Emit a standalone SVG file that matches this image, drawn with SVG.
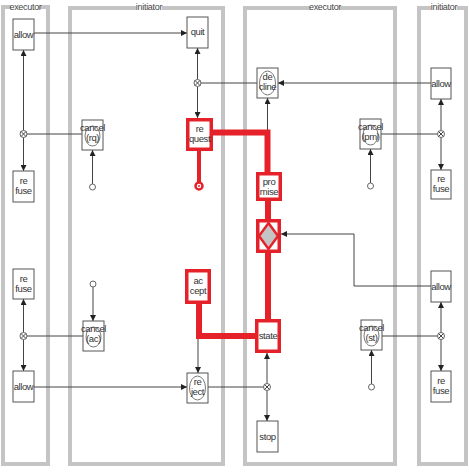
<svg xmlns="http://www.w3.org/2000/svg" width="469" height="472" viewBox="0 0 469 472">
<defs>
<marker id="ar" markerWidth="6" markerHeight="6" refX="6" refY="3" orient="auto" markerUnits="userSpaceOnUse"><path d="M0,0 L6,3 L0,6 z" fill="#222"/></marker>
<style>
.lane{fill:none;stroke:#c4c4c4;stroke-width:4}
.lt{font-family:"Liberation Sans",Arial,sans-serif;font-size:9px;fill:#444;text-anchor:middle;letter-spacing:-0.3px}
.lbg{fill:#fff}
.box{fill:#fff;stroke:#555;stroke-width:1}
.rbox{fill:#fff;stroke:#e5222a;stroke-width:3.5}
.t{font-family:"Liberation Sans",Arial,sans-serif;font-size:9.5px;fill:#333;text-anchor:middle;letter-spacing:-0.4px}
.ell{fill:none;stroke:#555;stroke-width:0.8}
.c{stroke:#444;stroke-width:1;fill:none}
.ca{stroke:#444;stroke-width:1;fill:none;marker-end:url(#ar)}
.x{fill:#fff;stroke:#555;stroke-width:0.9}
.sc{fill:#fff;stroke:#666;stroke-width:1}
.red{stroke:#e5222a;stroke-width:6;fill:none}
</style>
</defs>
<rect width="469" height="472" fill="#fff"/>
<g id="lanes">
<rect class="lane" x="3" y="7" width="45" height="457"/>
<rect class="lane" x="70" y="8" width="153" height="456"/>
<rect class="lane" x="245" y="8" width="150" height="456"/>
<rect class="lane" x="419" y="8" width="47" height="456"/>
<rect class="lbg" x="11" y="2" width="29" height="9"/>
<text class="lt" x="25.5" y="10">executor</text>
<rect class="lbg" x="136" y="2" width="26" height="9"/>
<text class="lt" x="149" y="10">initiator</text>
<rect class="lbg" x="310" y="2" width="30" height="9"/>
<text class="lt" x="325" y="10">executor</text>
<rect class="lbg" x="431" y="2" width="26" height="9"/>
<text class="lt" x="444" y="10">initiator</text>
</g>
<g id="connectors">
<line class="ca" x1="23.5" y1="130.5" x2="23.5" y2="50"/>
<line class="ca" x1="23.5" y1="137.5" x2="23.5" y2="171"/>
<line class="c" x1="27" y1="134" x2="82" y2="134"/>
<line class="ca" x1="34" y1="33" x2="187" y2="33"/>
<line class="ca" x1="197.5" y1="79.5" x2="197.5" y2="48"/>
<line class="ca" x1="197.5" y1="86.5" x2="197.5" y2="118"/>
<line class="c" x1="201" y1="83" x2="257" y2="83"/>
<line class="ca" x1="267.5" y1="130" x2="267.5" y2="98"/>
<line class="ca" x1="431" y1="83" x2="278" y2="83"/>
<line class="ca" x1="92.5" y1="184" x2="92.5" y2="150"/>
<line class="ca" x1="370.5" y1="183" x2="370.5" y2="149"/>
<line class="c" x1="381" y1="134" x2="437.5" y2="134"/>
<line class="ca" x1="441" y1="130.5" x2="441" y2="99"/>
<line class="ca" x1="441" y1="137.5" x2="441" y2="170"/>
<polyline class="ca" points="431,286 354,286 354,234 281,234"/>
<line class="ca" x1="441" y1="332.5" x2="441" y2="302"/>
<line class="ca" x1="441" y1="339.5" x2="441" y2="371"/>
<line class="c" x1="382" y1="336" x2="437.5" y2="336"/>
<line class="ca" x1="371.5" y1="384" x2="371.5" y2="350"/>
<line class="ca" x1="267" y1="383.5" x2="267" y2="353"/>
<line class="ca" x1="267" y1="390.5" x2="267" y2="421"/>
<line class="c" x1="208" y1="387" x2="263.5" y2="387"/>
<line class="ca" x1="198" y1="339" x2="198" y2="373"/>
<line class="ca" x1="34" y1="387" x2="187" y2="387"/>
<line class="ca" x1="93" y1="287" x2="93" y2="321"/>
<line class="c" x1="27" y1="336" x2="83" y2="336"/>
<line class="ca" x1="23.5" y1="332.5" x2="23.5" y2="299"/>
<line class="ca" x1="23.5" y1="339.5" x2="23.5" y2="371"/>
<line class="red" style="stroke-width:4" x1="199" y1="151" x2="199" y2="183"/>
<polyline class="red" points="213,132.5 267.5,132.5 267.5,172"/>
<line class="red" x1="268" y1="201" x2="268" y2="219"/>
<line class="red" x1="268" y1="253" x2="268" y2="319"/>
<polyline class="red" points="255,336 199,336 199,303"/>
</g>
<g id="allow-e1"><rect class="box" x="13" y="19" width="21" height="31"/><text class="t" x="23.5" y="38">allow</text></g>
<g id="x-e1"><circle class="x" cx="23.5" cy="134" r="3.5"/><path class="c" d="M21,131.5 L26,136.5 M26,131.5 L21,136.5" stroke-width="0.7"/></g>
<g id="refuse-e1"><rect class="box" x="13" y="171" width="21" height="31"/><text class="t" x="23.5" y="184">re</text><text class="t" x="23.5" y="194">fuse</text></g>
<g id="refuse-e2"><rect class="box" x="13" y="269" width="21" height="30"/><text class="t" x="23.5" y="282">re</text><text class="t" x="23.5" y="292">fuse</text></g>
<g id="x-e2"><circle class="x" cx="23.5" cy="336" r="3.5"/><path class="c" d="M21,333.5 L26,338.5 M26,333.5 L21,338.5" stroke-width="0.7"/></g>
<g id="allow-e2"><rect class="box" x="13" y="371" width="21" height="31"/><text class="t" x="23.5" y="390">allow</text></g>
<g id="quit"><rect class="box" x="187" y="17" width="21" height="31"/><text class="t" x="197.5" y="35">quit</text></g>
<g id="x-quit"><circle class="x" cx="197.5" cy="83" r="3.5"/><path class="c" d="M195,80.5 L200,85.5 M200,80.5 L195,85.5" stroke-width="0.7"/></g>
<g id="request"><rect class="rbox" x="187.75" y="119.75" width="23.5" height="29.5"/><text class="t" x="199.5" y="132">re</text><text class="t" x="199.5" y="142">quest</text></g>
<g id="request-start"><circle cx="199" cy="186" r="3.5" fill="#fff" stroke="#e5222a" stroke-width="2.5"/><circle cx="199" cy="186" r="1" fill="#e5222a"/></g>
<g id="cancel-rq"><rect class="box" x="82" y="120" width="21" height="30"/><ellipse class="ell" cx="92.5" cy="136" rx="7.5" ry="10"/><text class="t" x="92.5" y="131">cancel</text><text class="t" x="92.5" y="141">(rq)</text></g>
<g id="start-rq"><circle class="sc" cx="92.5" cy="187" r="3"/></g>
<g id="accept"><rect class="rbox" x="186.75" y="270.75" width="22.5" height="31.5"/><text class="t" x="198" y="284">ac</text><text class="t" x="198" y="294">cept</text></g>
<g id="cancel-ac"><rect class="box" x="83" y="321" width="21" height="30"/><ellipse class="ell" cx="93.5" cy="337" rx="7.5" ry="10"/><text class="t" x="93.5" y="332">cancel</text><text class="t" x="93.5" y="342">(ac)</text></g>
<g id="start-ac"><circle class="sc" cx="93" cy="284" r="3"/></g>
<g id="reject"><rect class="box" x="187" y="373" width="21" height="30"/><ellipse class="ell" cx="197.5" cy="388" rx="8" ry="12"/><text class="t" x="197.5" y="385">re</text><text class="t" x="197.5" y="395">ject</text></g>
<g id="decline"><rect class="box" x="257" y="68" width="21" height="30"/><ellipse class="ell" cx="267.5" cy="83" rx="8" ry="12"/><text class="t" x="267.5" y="80">de</text><text class="t" x="267.5" y="90">cline</text></g>
<g id="promise"><rect class="rbox" x="257.75" y="173.75" width="22.5" height="25.5"/><text class="t" x="269" y="185">pro</text><text class="t" x="269" y="195">mise</text></g>
<g id="execute"><rect class="rbox" x="257.75" y="220.75" width="21.5" height="30.5"/><polygon points="268.5,223 278,236 268.5,249 259,236" fill="#c4c4c4" stroke="#e5222a" stroke-width="2.5"/></g>
<g id="state"><rect class="rbox" x="256.75" y="320.75" width="22.5" height="30.5"/><text class="t" x="268" y="339">state</text></g>
<g id="x-state"><circle class="x" cx="267" cy="387" r="3.5"/><path class="c" d="M264.5,384.5 L269.5,389.5 M269.5,384.5 L264.5,389.5" stroke-width="0.7"/></g>
<g id="stop"><rect class="box" x="257" y="421" width="21" height="31"/><text class="t" x="267.5" y="440">stop</text></g>
<g id="cancel-pm"><rect class="box" x="360" y="119" width="21" height="30"/><ellipse class="ell" cx="370.5" cy="135" rx="7.5" ry="10"/><text class="t" x="370.5" y="130">cancel</text><text class="t" x="370.5" y="140">(pm)</text></g>
<g id="start-pm"><circle class="sc" cx="370.5" cy="186" r="3"/></g>
<g id="cancel-st"><rect class="box" x="361" y="320" width="21" height="30"/><ellipse class="ell" cx="371.5" cy="336" rx="7.5" ry="10"/><text class="t" x="371.5" y="331">cancel</text><text class="t" x="371.5" y="341">(st)</text></g>
<g id="start-st"><circle class="sc" cx="371.5" cy="387" r="3"/></g>
<g id="allow-i1"><rect class="box" x="431" y="68" width="20" height="31"/><text class="t" x="441" y="87">allow</text></g>
<g id="x-i1"><circle class="x" cx="441" cy="134" r="3.5"/><path class="c" d="M438.5,131.5 L443.5,136.5 M443.5,131.5 L438.5,136.5" stroke-width="0.7"/></g>
<g id="refuse-i1"><rect class="box" x="431" y="170" width="20" height="29"/><text class="t" x="441" y="182">re</text><text class="t" x="441" y="192">fuse</text></g>
<g id="allow-i2"><rect class="box" x="431" y="271" width="20" height="31"/><text class="t" x="441" y="290">allow</text></g>
<g id="x-i2"><circle class="x" cx="441" cy="336" r="3.5"/><path class="c" d="M438.5,333.5 L443.5,338.5 M443.5,333.5 L438.5,338.5" stroke-width="0.7"/></g>
<g id="refuse-i2"><rect class="box" x="431" y="371" width="20" height="31"/><text class="t" x="441" y="384">re</text><text class="t" x="441" y="394">fuse</text></g>
</svg>
